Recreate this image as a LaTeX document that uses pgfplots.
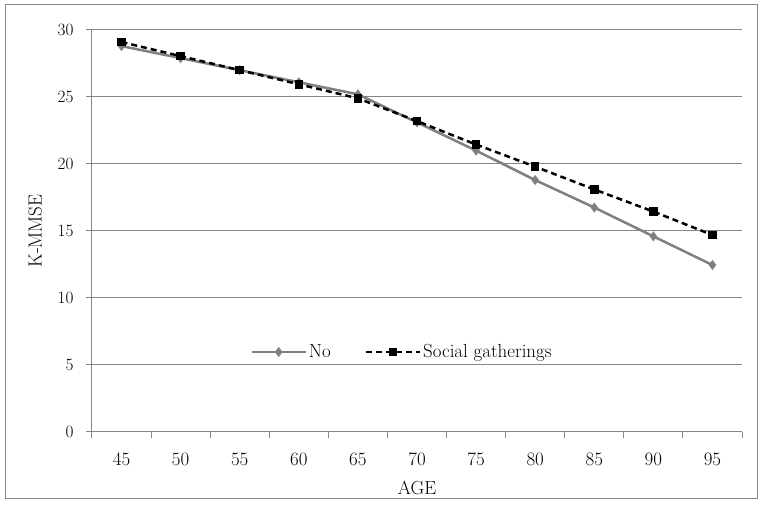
\documentclass[border=0pt]{standalone}
\usepackage{pgfplots}
\pgfplotsset{compat=1.18}

\definecolor{lineGray}{RGB}{128,128,128}
\definecolor{gridGray}{RGB}{134,134,134}

\begin{document}
\begin{tikzpicture}[x=1bp,y=1bp]
\fontsize{19}{22}\selectfont
% outer frame and page size
\path (-92,-74) rectangle (673,432);
\draw[gridGray, line width=1bp] (-86,-67) rectangle (665,427);
\begin{axis}[
  at={(0,0)}, anchor=south west,
  scale only axis, width=650bp, height=402bp,
  xmin=-0.5, xmax=10.5, ymin=0, ymax=30,
  axis x line*=bottom, axis y line*=left,
  axis line style={gridGray, line width=1bp},
  xtick={0,...,10},
  xticklabels={45,50,55,60,65,70,75,80,85,90,95},
  minor xtick={-0.5,0.5,...,10.5},
  ytick={0,5,...,30},
  tick align=outside,
  major tick length=6bp, minor tick length=6bp,
  every tick/.style={gridGray, line width=1bp},
  major x tick style={draw=none},
  ymajorgrids, grid style={gridGray, line width=1bp},
  tick label style={font=\fontsize{19}{22}\selectfont},
  xticklabel style={yshift=-8bp},
  yticklabel style={xshift=-6bp},
  xlabel={AGE}, ylabel={K-MMSE},
  label style={font=\fontsize{19}{22}\selectfont},
  xlabel style={yshift=-3bp},
  ylabel style={yshift=3bp},
  legend columns=2,
  legend style={draw=none, fill=none, at={(0.477,0.199)}, anchor=center,
    font=\fontsize{19}{22}\selectfont,
    /tikz/every even column/.append style={column sep=32bp}},
  legend image code/.code={\draw[mark repeat=2, mark phase=2, #1]
    plot coordinates {(0bp,0bp) (27bp,0bp) (54bp,0bp)};},
]
\addplot[lineGray, line width=2.5bp, mark=diamond*, mark size=3bp,
  mark options={solid, fill=lineGray}]
  coordinates {(0,28.8) (1,27.9) (2,27.0) (3,26.1) (4,25.2) (5,23.1)
    (6,21.0) (7,18.8) (8,16.75) (9,14.6) (10,12.46)};
\addlegendentry{No}
\addplot[black, line width=2.5bp, dash pattern=on 6bp off 4bp,
  mark=square*, mark size=3bp, mark options={solid}]
  coordinates {(0,29.1) (1,28.05) (2,27.0) (3,25.95) (4,24.9) (5,23.2)
    (6,21.45) (7,19.8) (8,18.1) (9,16.45) (10,14.7)};
\addlegendentry{Social gatherings}
\end{axis}
\end{tikzpicture}
\end{document}
